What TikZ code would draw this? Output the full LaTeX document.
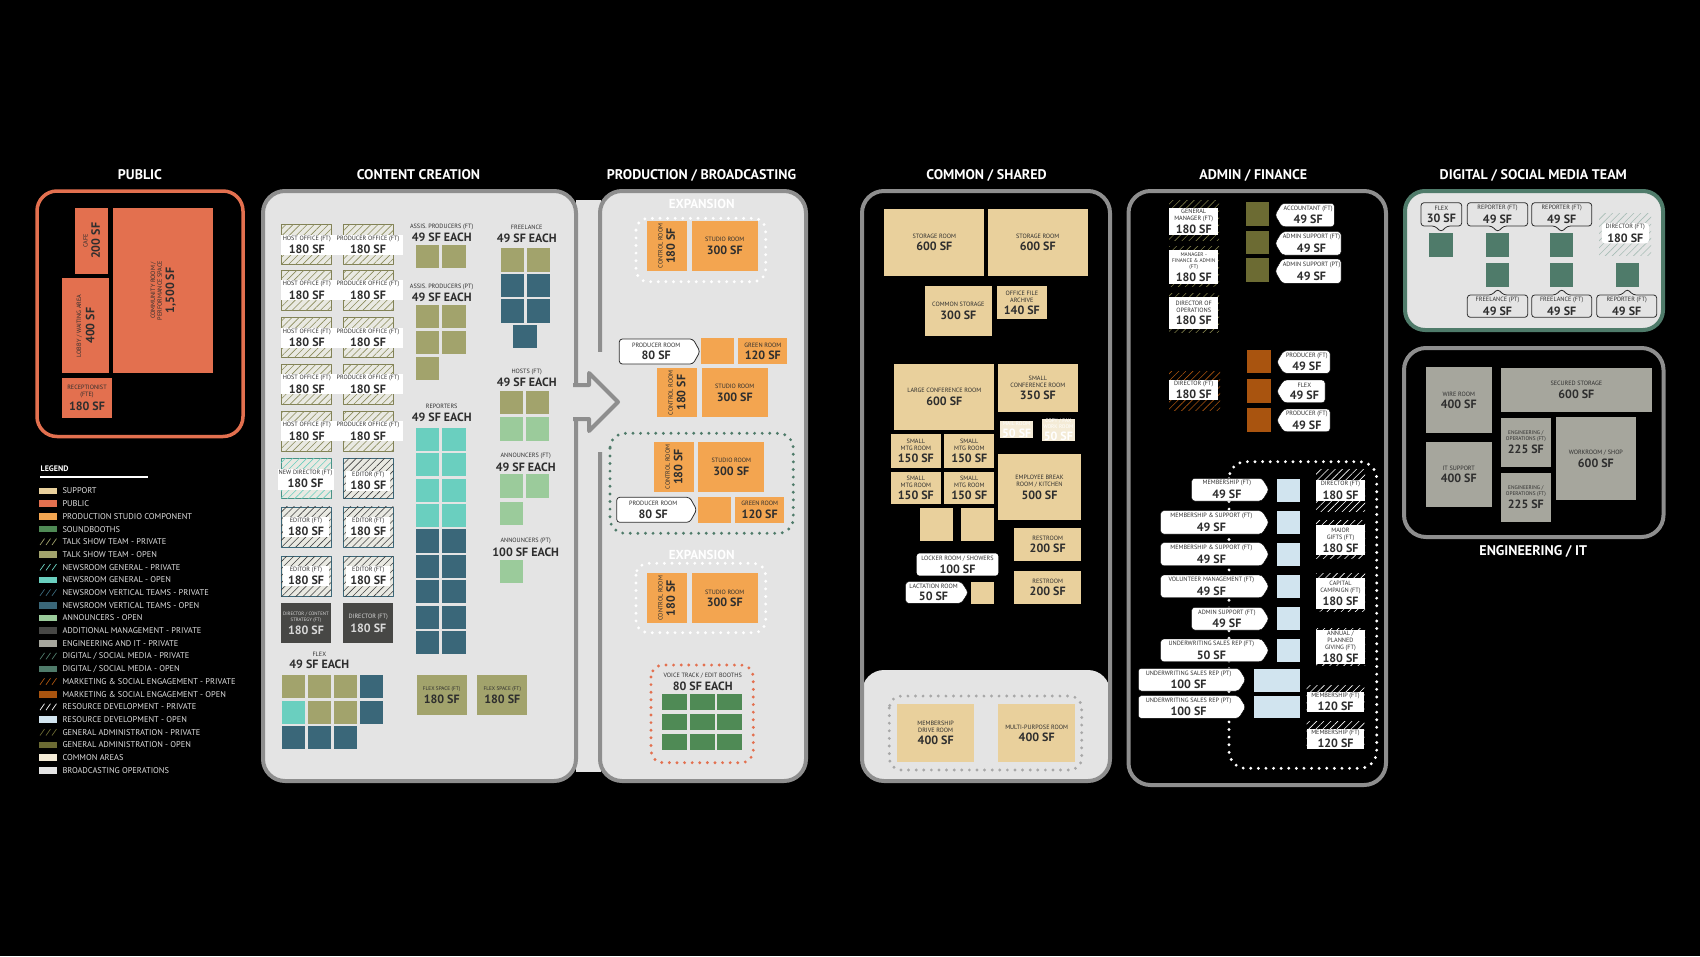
\documentclass[tikz,border=0pt]{standalone}
\usepackage{fontspec}
\setmainfont{PT Sans}
\usetikzlibrary{patterns.meta}

\definecolor{support}{HTML}{E9D09C}
\definecolor{public}{HTML}{E3704F}
\definecolor{prod}{HTML}{F3A550}
\definecolor{sound}{HTML}{4F8A55}
\definecolor{talk}{HTML}{A2A36C}
\definecolor{newsgen}{HTML}{6ACFBF}
\definecolor{newsvert}{HTML}{3A6779}
\definecolor{announce}{HTML}{9BCB9B}
\definecolor{addmgmt}{HTML}{474745}
\definecolor{engit}{HTML}{A6A69D}
\definecolor{digital}{HTML}{4F7B6A}
\definecolor{mkt}{HTML}{A9540F}
\definecolor{resdev}{HTML}{D1E4EF}
\definecolor{genadm}{HTML}{6C6B33}
\definecolor{common}{HTML}{F4EBD6}
\definecolor{broad}{HTML}{E4E4E4}
\definecolor{framegray}{HTML}{8E8E8E}
\definecolor{dotgray}{HTML}{A8A8A8}
\definecolor{hatchbg}{HTML}{E9E9E2}
\definecolor{txtd}{HTML}{2E2E2E}

\newcommand{\lblf}{\fontsize{6.2}{6.8}\selectfont}
\newcommand{\lbls}{\fontsize{5.3}{5.9}\selectfont}
\newcommand{\area}{\fontsize{12}{12.5}\selectfont\bfseries\rule{0pt}{11.2pt}}
% room by corners: [opts] x1 y1 x2 y2 colour name text
\newcommand{\roomat}[8][]{\node[room,fill=#6,minimum width={#4-(#2)},minimum height={#5-(#3)},#1] (#7) at ({(#2+#4)/2},{(#3+#5)/2}) {#8};}
\newcommand{\roomrot}[8][]{\node[room,rotate=90,fill=#6,minimum width={#5-(#3)},minimum height={#4-(#2)},#1] (#7) at ({(#2+#4)/2},{(#3+#5)/2}) {#8};}
\newcommand{\tile}[3]{\fill[#3] (#1,#2) rectangle ++(23.3,23.3);}
% callouts: tip right, left, down, up
\newcommand{\callr}[7][]{%
  \draw[bubble,#1] (#2,#3) -- ({#4-7},#3) -- (#4,{(#3+#5)/2}) -- ({#4-7},#5) -- (#2,#5) -- cycle;
  \node[ctext] (#6) at ({(#2+#4-7)/2},{(#3+#5)/2}) {#7};}
\newcommand{\calll}[7][]{%
  \draw[bubble,#1] (#2,{(#3+#5)/2}) -- ({#2+7},#3) -- (#4,#3) -- (#4,#5) -- ({#2+7},#5) -- cycle;
  \node[ctext] (#6) at ({(#2+7+#4)/2},{(#3+#5)/2}) {#7};}
\newcommand{\calld}[8][]{%
  \draw[bubble,#1] (#2,#3) -- (#4,#3) -- (#4,#5) -- ({#6+6},#5) -- (#6,{#5+6}) -- ({#6-6},#5) -- (#2,#5) -- cycle;
  \node[ctext] (#7) at ({(#2+#4)/2},{(#3+#5)/2}) {#8};}
\newcommand{\callu}[8][]{%
  \draw[bubble,#1] (#2,#3) -- ({#6-6},#3) -- (#6,{#3-6}) -- ({#6+6},#3) -- (#4,#3) -- (#4,#5) -- (#2,#5) -- cycle;
  \node[ctext] (#7) at ({(#2+#4)/2},{(#3+#5)/2}) {#8};}

\begin{document}
\begin{tikzpicture}[x=1pt,y=-1pt,line join=round,
  room/.style={font=\lblf,text=txtd,align=center,inner sep=1pt},
  tag/.style={fill=white,font=\lblf,text=txtd,align=center,inner sep=1pt},
  ctext/.style={font=\lblf,text=txtd,align=center,inner sep=0pt},
  grouplbl/.style={font=\lblf,text=txtd,align=center,inner sep=0pt,anchor=south},
  hdr/.style={font=\fontsize{14}{14}\selectfont\bfseries,text=white},
  expnote/.style={font=\fontsize{13}{13}\selectfont\bfseries,text=white},
  panel/.style={line width=4,rounded corners=22},
  bubble/.style={fill=white,rounded corners=3},
  dotline/.style={line width=3.2,dash pattern=on 0pt off 7.6pt,line cap=round,rounded corners=12},
  hatch/.style={postaction={pattern={Lines[angle=45,distance=5pt,line width=.6pt]},pattern color=#1}},
  talkpriv/.style={fill=hatchbg,draw=talk!80!black,line width=.4,hatch=talk!85!black},
  newsgenpriv/.style={fill=hatchbg,draw=newsgen!70!black,line width=.4,hatch=newsgen},
  newsvertpriv/.style={fill=hatchbg,draw=newsvert,line width=.4,hatch=black!75},
  genpriv/.style={hatch=genadm!90!white},
  mktpriv/.style={hatch=mkt},
  respriv/.style={hatch=white},
  digpriv/.style={fill=broad,hatch=digital!50!white}]
\useasboundingbox (0,0) rectangle (1700,956);
\fill[black] (0,0) rectangle (1700,956);

% headings
\node[hdr] (tpub) at (140,175) {PUBLIC};
\node[hdr] (tcon) at (418.5,175) {CONTENT CREATION};
\node[hdr] (tpro) at (701.5,175) {PRODUCTION / BROADCASTING};
\node[hdr] (tcom) at (986.6,175) {COMMON / SHARED};
\node[hdr] (tadm) at (1253.3,175) {ADMIN / FINANCE};
\node[hdr] (tdig) at (1533.3,175) {DIGITAL / SOCIAL MEDIA TEAM};
\node[hdr] (teng) at (1533.3,551) {ENGINEERING / IT};

% public
\draw[public,line width=3.5,rounded corners=20] (37,191) rectangle (243,436.5);
\roomrot{75}{207.7}{108.3}{274}{public}{cafe}{CAFE\\\area 200 SF}
\roomrot{113.3}{207.7}{213.3}{373.3}{public}{commroom}{COMMUNITY ROOM /\\PERFORMANCE SPACE\\\area 1,500 SF}
\roomrot{62.3}{278.3}{109}{373.3}{public}{lobby}{LOBBY / WAITING AREA\\\area 400 SF}
\roomat{62.3}{378.3}{111.7}{417.7}{public}{recep}{RECEPTIONIST\\(FTE)\\\area 180 SF}

% legend
\node[font=\fontsize{8}{8}\selectfont\bfseries,text=white,anchor=west,inner sep=0] (leg) at (40.5,469) {LEGEND};
\draw[white,line width=1.3] (40,477) -- (148,477);
\foreach \c/\k/\t [count=\i from 0] in {support/s/SUPPORT,public/s/PUBLIC,prod/s/PRODUCTION STUDIO COMPONENT,sound/s/SOUNDBOOTHS,talk/h/TALK SHOW TEAM - PRIVATE,talk/s/TALK SHOW TEAM - OPEN,newsgen/h/NEWSROOM GENERAL - PRIVATE,newsgen/s/NEWSROOM GENERAL - OPEN,newsvert/h/NEWSROOM VERTICAL TEAMS - PRIVATE,newsvert/s/NEWSROOM VERTICAL TEAMS - OPEN,announce/s/ANNOUNCERS - OPEN,addmgmt/s/ADDITIONAL MANAGEMENT - PRIVATE,engit/s/ENGINEERING AND IT - PRIVATE,digital/h/{DIGITAL / SOCIAL MEDIA - PRIVATE},digital/s/{DIGITAL / SOCIAL MEDIA - OPEN},mkt/h/MARKETING \& SOCIAL ENGAGEMENT - PRIVATE,mkt/s/MARKETING \& SOCIAL ENGAGEMENT - OPEN,white/h/RESOURCE DEVELOPMENT - PRIVATE,resdev/s/RESOURCE DEVELOPMENT - OPEN,genadm/h/GENERAL ADMINISTRATION - PRIVATE,genadm/s/GENERAL ADMINISTRATION - OPEN,common/s/COMMON AREAS,broad/s/BROADCASTING OPERATIONS}{
  \if\k h
    \foreach \j in {0,1,2} \draw[\c,line width=.7] ({40+6*\j},{491+12.7*\i+3.2}) -- ++(4.5,-6.4);
  \else
    \fill[\c] (39.3,{491+12.7*\i-3.3}) rectangle (56.7,{491+12.7*\i+3.3});
  \fi
  \node[anchor=west,font=\fontsize{8.4}{9}\selectfont,text=white!88!black,inner sep=0] (lg\i) at (62.3,{491+12.7*\i}) {\t};
}

% content creation + production panels
\fill[broad] (576,200) rectangle (601,772);
\draw[framegray,fill=broad,panel] (263,191) rectangle (576,781);
\draw[framegray,fill=broad,panel] (600,191) rectangle (806,781);
\fill[broad] (596,352) rectangle (604,452);
\fill[broad] (573,385) -- (589,385) -- (589,373) -- (618,402) -- (589,431) -- (589,419) -- (573,419) -- cycle;
\draw[framegray,line width=4] (573,385) -- (589,385) -- (589,373) -- (618,402) -- (589,431) -- (589,419) -- (573,419);

% offices
\foreach \y [count=\k] in {224.3,270,317.3,364,411}{
  \draw[talkpriv] (281,\y) rectangle ++(50,40);
  \draw[talkpriv] (343.3,\y) rectangle ++(50,40);
  \node[tag,minimum width=52,minimum height=20] (host\k) at (306.8,{\y+20.4}) {HOST OFFICE (FT)\\\area 180 SF};
  \node[tag,minimum width=70,minimum height=20] (prodoff\k) at (368,{\y+20.4}) {PRODUCER OFFICE (FT)\\\area 180 SF};
}
\draw[newsgenpriv] (281,458.3) rectangle ++(50,40);
\draw[newsvertpriv] (343.3,458.3) rectangle ++(50,40);
\node[tag,minimum width=56,minimum height=21] (newdir) at (305.5,479) {NEW DIRECTOR (FT)\\\area 180 SF};
\node[tag,minimum width=44,minimum height=20] (ed0) at (368.3,481) {EDITOR (FT)\\\area 180 SF};
\foreach \y [count=\k] in {506.7,556}{
  \draw[newsvertpriv] (281,\y) rectangle ++(50,40);
  \draw[newsvertpriv] (343.3,\y) rectangle ++(50,40);
  \node[tag,minimum width=46,minimum height=20] (edl\k) at (306,{\y+20}) {EDITOR (FT)\\\area 180 SF};
  \node[tag,minimum width=44,minimum height=20] (edr\k) at (368.3,{\y+20}) {EDITOR (FT)\\\area 180 SF};
}
\roomat[font=\fontsize{4.8}{5.4}\selectfont,text=white!85!black]{281}{603.3}{331}{643.3}{addmgmt}{dircs}{DIRECTOR / CONTENT\\STRATEGY (FT)\\\area 180 SF}
\roomat[text=white!85!black]{343.3}{603.3}{393.3}{643.3}{addmgmt}{dirft}{DIRECTOR (FT)\\\area 180 SF}

% open seats
\node[grouplbl] (apft) at (441.7,242) {ASSIS. PRODUCERS (FT)\\\area 49 SF EACH};
\tile{416}{245}{talk}\tile{442.3}{245}{talk}
\node[grouplbl] (appt) at (441.7,302) {ASSIS. PRODUCERS (PT)\\\area 49 SF EACH};
\foreach \y in {305,331}{\tile{416}{\y}{talk}\tile{442.3}{\y}{talk}}
\tile{416}{357}{talk}
\node[grouplbl] (rep) at (441.7,421.5) {REPORTERS\\\area 49 SF EACH};
\foreach \y/\c in {427.7/newsgen,453.1/newsgen,478.5/newsgen,503.9/newsgen,529.3/newsvert,554.7/newsvert,580.1/newsvert,605.5/newsvert,630.9/newsvert}{\tile{416}{\y}{\c}\tile{442.3}{\y}{\c}}
\node[grouplbl] (free) at (526.7,242.5) {FREELANCE\\\area 49 SF EACH};
\tile{500.7}{248.3}{talk}\tile{526.7}{248.3}{talk}
\foreach \y in {274,299.3}{\tile{500.7}{\y}{newsvert}\tile{526.7}{\y}{newsvert}}
\tile{513.3}{325}{newsvert}
\node[grouplbl] (hosts) at (526.7,387) {HOSTS (FT)\\\area 49 SF EACH};
\tile{500}{390.7}{talk}\tile{526}{390.7}{talk}\tile{500}{417.3}{announce}\tile{526}{417.3}{announce}
\node[grouplbl] (annft) at (525.7,471.5) {ANNOUNCERS (FT)\\\area 49 SF EACH};
\tile{500}{474.3}{announce}\tile{526}{474.3}{announce}\tile{500}{501.7}{announce}
\node[grouplbl] (annpt) at (525.7,556.5) {ANNOUNCERS (PT)\\\area 100 SF EACH};
\tile{500}{560}{announce}
\node[grouplbl] (flex) at (319.3,669) {FLEX\\\area 49 SF EACH};
\foreach \x/\c in {281.7/talk,307.7/talk,333.7/talk,360/newsvert}{\tile{\x}{675}{\c}}
\foreach \x/\c in {281.7/newsgen,307.7/talk,333.7/talk,360/newsvert}{\tile{\x}{700.7}{\c}}
\foreach \x in {281.7,307.7,333.7}{\tile{\x}{726}{newsvert}}
\roomat[font=\lbls]{416.7}{675}{466.7}{715}{talk}{flexsp1}{FLEX SPACE (FT)\\\area 180 SF}
\roomat[font=\lbls]{477.3}{675}{527.3}{715}{talk}{flexsp2}{FLEX SPACE (FT)\\\area 180 SF}

% production
\node[expnote] (exp1) at (701.7,204) {EXPANSION};
\draw[white,dotline] (636,218.3) rectangle (765.7,281.7);
\roomrot{646.7}{221}{686.7}{271}{prod}{ctrl1}{CONTROL ROOM\\\area 180 SF}
\roomat{691.7}{221}{757.7}{271}{prod}{stud1}{STUDIO ROOM\\\area 300 SF}
\callr[draw=txtd,line width=.8]{619.3}{339}{700}{364}{prodrm1}{PRODUCER ROOM\\\area 80 SF}
\fill[prod] (701,338.3) rectangle (734.3,364.3);
\roomat{738.3}{338.3}{787.3}{364.3}{prod}{green1}{GREEN ROOM\\\area 120 SF}
\roomrot{657.3}{368.3}{696.7}{417.3}{prod}{ctrl2}{CONTROL ROOM\\\area 180 SF}
\roomat{701.7}{368.3}{767.7}{417.3}{prod}{stud2}{STUDIO ROOM\\\area 300 SF}
\draw[digital,dotline,rounded corners=15] (610,433.3) rectangle (793.3,533.3);
\roomrot{654}{442.3}{694}{491.7}{prod}{ctrl3}{CONTROL ROOM\\\area 180 SF}
\roomat{698.3}{442.3}{764.3}{491.7}{prod}{stud3}{STUDIO ROOM\\\area 300 SF}
\callr[draw=txtd,line width=.8]{616.7}{497.3}{696.7}{522.3}{prodrm2}{PRODUCER ROOM\\\area 80 SF}
\fill[prod] (698.3,496.7) rectangle (731,523.3);
\roomat{735}{496.7}{784.3}{523.3}{prod}{green2}{GREEN ROOM\\\area 120 SF}
\node[expnote] (exp2) at (701.7,555) {EXPANSION};
\draw[white,dotline] (636,563.3) rectangle (765.7,632.7);
\roomrot{646.7}{573.3}{686.7}{623.3}{prod}{ctrl4}{CONTROL ROOM\\\area 180 SF}
\roomat{691.7}{573.3}{757.7}{623.3}{prod}{stud4}{STUDIO ROOM\\\area 300 SF}
\draw[public,dotline] (651,665) rectangle (753.3,762.7);
\node[grouplbl] (voice) at (702.7,691) {VOICE TRACK / EDIT BOOTHS\\\area 80 SF EACH};
\foreach \x in {662.3,690,717.3} \foreach \y in {694,714,734} \fill[sound] (\x,\y) rectangle ++(25,16);

% common / shared
\begin{scope}
\clip[rounded corners=22] (862,191) rectangle (1110,781);
\fill[broad,rounded corners=22] (862,670) rectangle (1110,800);
\end{scope}
\draw[framegray,panel] (862,191) rectangle (1110,781);
\roomat{884.3}{209.3}{984.3}{275.7}{support}{stor1}{STORAGE ROOM\\\area 600 SF}
\roomat{987.7}{209.3}{1087.7}{275.7}{support}{stor2}{STORAGE ROOM\\\area 600 SF}
\roomat{925}{286}{991.7}{335.7}{support}{comstor}{COMMON STORAGE\\\area 300 SF}
\roomat{997}{286}{1046.7}{319.3}{support}{archive}{OFFICE FILE\\ARCHIVE\\\area 140 SF}
\roomat{894.3}{364}{994.3}{430}{support}{largeconf}{LARGE CONFERENCE ROOM\\\area 600 SF}
\roomat{998}{364}{1077.7}{412.3}{support}{smallconf}{SMALL\\CONFERENCE ROOM\\\area 350 SF}
\roomat[text=white,inner sep=0pt,font=\lbls]{1000}{421}{1033.3}{438.3}{common}{mail}{MAIL ROOM\\\area 50 SF}
\roomat[text=white,inner sep=0pt,font=\lbls]{1041.7}{420}{1075}{440}{common}{copyfax}{COPY / FAX\\WORK ROOM\\\area 50 SF}
\roomat{891}{434.3}{940.7}{467.7}{support}{mtg1}{SMALL\\MTG ROOM\\\area 150 SF}
\roomat{944.3}{434.3}{994.3}{467.7}{support}{mtg2}{SMALL\\MTG ROOM\\\area 150 SF}
\roomat{891}{471.7}{940.7}{504.3}{support}{mtg3}{SMALL\\MTG ROOM\\\area 150 SF}
\roomat{944.3}{471.7}{994.3}{504.3}{support}{mtg4}{SMALL\\MTG ROOM\\\area 150 SF}
\roomat{998}{454.3}{1081}{520}{support}{kitchen}{EMPLOYEE BREAK\\ROOM / KITCHEN\\\area 500 SF}
\fill[support] (920,508.3) rectangle (953.3,541);
\fill[support] (960.7,508.3) rectangle (994,541);
\roomat{1014.3}{528.3}{1081}{561}{support}{rest1}{RESTROOM\\\area 200 SF}
\roomat{1014.3}{571}{1081}{603.7}{support}{rest2}{RESTROOM\\\area 200 SF}
\fill[bubble] (916.7,553.3) rectangle (998.3,575.7);
\node[ctext] (locker) at (957.5,564.5) {LOCKER ROOM / SHOWERS\\\area 100 SF};
\callr{905.7}{581.7}{968.3}{603.3}{lact}{LACTATION ROOM\\\area 50 SF}
\fill[support] (970.7,581.7) rectangle (994,604.3);
\draw[dotgray,dotline] (889.3,696) rectangle (1081.7,770);
\roomat{897.3}{704.3}{974}{762.3}{support}{memdrive}{MEMBERSHIP\\DRIVE ROOM\\\area 400 SF}
\roomat{998.3}{704.3}{1075}{762.3}{support}{multi}{MULTI-PURPOSE ROOM\\\area 400 SF}

% admin / finance
\draw[framegray,panel] (1128.5,191) rectangle (1386,785);
\draw[genpriv] (1169,200) rectangle (1219,240);
\node[tag,minimum width=49,minimum height=27] (gm) at (1193.7,221.3) {GENERAL\\MANAGER (FT)\\\area 180 SF};
\draw[genpriv] (1169,246.7) rectangle (1219,286);
\node[tag,font=\lbls,minimum width=49,minimum height=34] (mfa) at (1193.7,267) {MANAGER -\\FINANCE \& ADMIN\\(FT)\\\area 180 SF};
\draw[genpriv] (1169,293.3) rectangle (1219,332);
\node[tag,minimum width=49,minimum height=32] (dirops) at (1193.7,313) {DIRECTOR OF\\OPERATIONS\\\area 180 SF};
\foreach \y in {202.3,230.7,258.3} \tile{1245.7}{\y}{genadm};
\calll{1275}{203.3}{1334.3}{226.7}{acct}{ACCOUNTANT (FT)\\\area 49 SF}
\calll{1275}{231.7}{1341}{255}{admsup1}{ADMIN SUPPORT (FT)\\\area 49 SF}
\calll{1275}{259}{1341}{283.3}{admsup2}{ADMIN SUPPORT (PT)\\\area 49 SF}
\draw[mktpriv] (1169,371.7) rectangle (1220,410);
\node[tag,minimum width=49,minimum height=20] (dirmkt) at (1193.7,390) {DIRECTOR (FT)\\\area 180 SF};
\foreach \y in {350,379.3,408.3} \tile{1247.3}{\y}{mkt};
\calll{1276.7}{350.7}{1330}{373.3}{mktprod1}{PRODUCER (FT)\\\area 49 SF}
\calll{1276.7}{380}{1325}{402.7}{mktflex}{FLEX\\\area 49 SF}
\calll{1276.7}{409}{1330}{431.7}{mktprod2}{PRODUCER (FT)\\\area 49 SF}
\draw[white,dotline,rounded corners=17] (1229,461.7) rectangle (1376.7,768.3);
\foreach \y in {479.3,511,543.3,575,607.3,639.3} \fill[resdev] (1277.3,\y) rectangle ++(22.7,22.7);
\fill[resdev] (1254,669) rectangle (1300,691.7);
\fill[resdev] (1254,695.7) rectangle (1300,718.3);
\callr{1191.7}{478.3}{1269}{501}{mem1}{MEMBERSHIP (FT)\\\area 49 SF}
\callr{1160.7}{510.7}{1269}{534}{memsup1}{MEMBERSHIP \& SUPPORT (FT)\\\area 49 SF}
\callr{1160.7}{542.7}{1269}{565.7}{memsup2}{MEMBERSHIP \& SUPPORT (FT)\\\area 49 SF}
\callr{1160.7}{575}{1269}{597.7}{volmgmt}{VOLUNTEER MANAGEMENT (FT)\\\area 49 SF}
\callr{1191.7}{607.3}{1269}{630}{admsup3}{ADMIN SUPPORT (FT)\\\area 49 SF}
\callr{1160.7}{639}{1269}{661.7}{uw1}{UNDERWRITING SALES REP (FT)\\\area 50 SF}
\callr{1138.3}{668.3}{1245.7}{691}{uw2}{UNDERWRITING SALES REP (PT)\\\area 100 SF}
\callr{1138.3}{695.7}{1245.7}{718.3}{uw3}{UNDERWRITING SALES REP (PT)\\\area 100 SF}
\draw[respriv] (1316,469) rectangle (1365,511.7);
\node[tag,minimum width=49,minimum height=19] (rddir) at (1340.5,490.5) {DIRECTOR (FT)\\\area 180 SF};
\draw[respriv] (1316,520) rectangle (1365,558.3);
\node[tag,minimum width=49,minimum height=30] (gifts) at (1340.5,540.3) {MAJOR\\GIFTS (FT)\\\area 180 SF};
\draw[respriv] (1316,573.3) rectangle (1365,611);
\node[tag,minimum width=49,minimum height=31] (capital) at (1340.5,593.5) {CAPITAL\\CAMPAIGN (FT)\\\area 180 SF};
\draw[respriv] (1316,628.3) rectangle (1365,665.7);
\node[tag,minimum width=49,minimum height=34] (annual) at (1340.5,647) {ANNUAL /\\PLANNED\\GIVING (FT)\\\area 180 SF};
\draw[respriv] (1306.7,685) rectangle (1364.3,711.7);
\node[tag,minimum width=57.6,minimum height=19] (mem120a) at (1335.5,702) {MEMBERSHIP (FT)\\\area 120 SF};
\draw[respriv] (1306.7,721.7) rectangle (1364.3,748.3);
\node[tag,minimum width=57.6,minimum height=19] (mem120b) at (1335.5,738.7) {MEMBERSHIP (FT)\\\area 120 SF};

% digital / social media
\draw[digital,fill=broad,panel,rounded corners=20] (1405,191) rectangle (1663,330);
\foreach \x/\y in {1429.3/233.3,1486/233.3,1550/233.3,1486/263.3,1550/263.3,1615.7/263.3} \tile{\x}{\y}{digital};
\calld[fill=broad,draw=txtd,line width=.8]{1421}{202.7}{1461.7}{226}{1441}{dflex}{FLEX\\\area 30 SF}
\calld[fill=broad,draw=txtd,line width=.8]{1467.3}{202.7}{1527.7}{226}{1497.7}{drep1}{REPORTER (FT)\\\area 49 SF}
\calld[fill=broad,draw=txtd,line width=.8]{1531.7}{202.7}{1591.7}{226}{1561.7}{drep2}{REPORTER (FT)\\\area 49 SF}
\callu[fill=broad,draw=txtd,line width=.8]{1467.3}{295}{1527.7}{317.3}{1497.7}{dfree1}{FREELANCE (PT)\\\area 49 SF}
\callu[fill=broad,draw=txtd,line width=.8]{1531.7}{295}{1591.7}{317.3}{1561.7}{dfree2}{FREELANCE (FT)\\\area 49 SF}
\callu[fill=broad,draw=txtd,line width=.8]{1596.7}{295}{1656.7}{317.3}{1627.3}{drep3}{REPORTER (FT)\\\area 49 SF}
\fill[digpriv] (1599,213.3) rectangle (1651,255);
\node[tag,rounded corners=3,minimum width=47,minimum height=20] (ddir) at (1625.3,233.3) {DIRECTOR (FT)\\\area 180 SF};

% engineering / it
\draw[framegray,panel] (1404,348) rectangle (1663.5,537);
\roomat{1425.7}{367.3}{1491.7}{433.3}{engit}{wire}{WIRE ROOM\\\area 400 SF}
\roomat{1425.7}{441.7}{1491.7}{507.3}{engit}{itsup}{IT SUPPORT\\\area 400 SF}
\roomat{1501}{368.3}{1651.7}{411.7}{engit}{secstor}{SECURED STORAGE\\\area 600 SF}
\roomat[font=\lbls]{1501}{417.7}{1550.7}{466.7}{engit}{engops1}{ENGINEERING /\\OPERATIONS (FT)\\\area 225 SF}
\roomat[font=\lbls]{1501}{472.7}{1550.7}{521.7}{engit}{engops2}{ENGINEERING /\\OPERATIONS (FT)\\\area 225 SF}
\roomat{1556}{417.3}{1635.7}{500}{engit}{workshop}{WORKROOM / SHOP\\\area 600 SF}
\end{tikzpicture}
\end{document}
